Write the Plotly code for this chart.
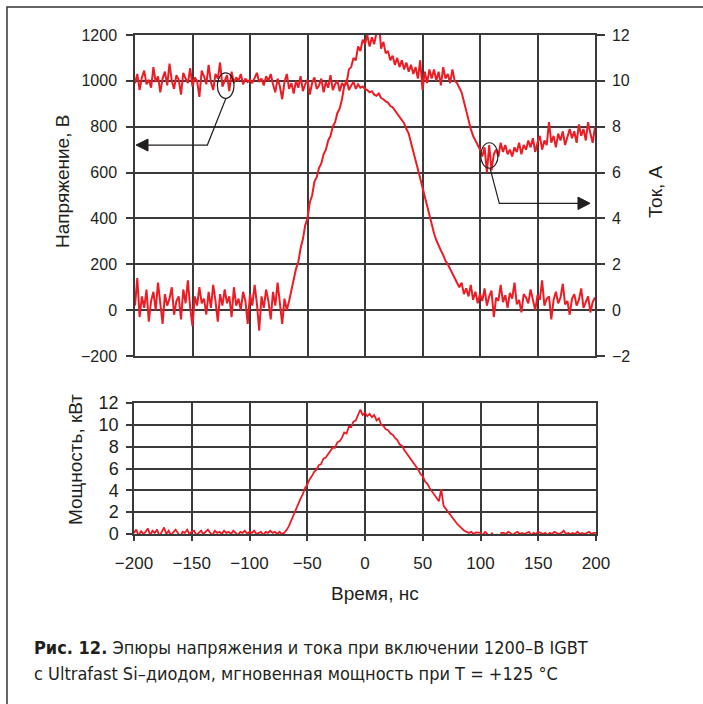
import plotly.graph_objects as go

# Sample times, ns (2 ns sampling grid)
time_ns = list(range(-200, 201, 2))

# Voltage, V (left axis of top panel)
voltage_v = [
    990, 1030, 960, 1015, 1045, 985, 1005, 970, 1060, 995,
    1020, 950, 1010, 1040, 980, 1075, 1000, 965, 1025, 1005,
    940, 1035, 1010, 990, 1055, 975, 1015, 1000, 930, 1045,
    1020, 985, 1070, 995, 960, 1030, 1010, 1080, 975, 1005,
    1025, 955, 1040, 990, 1015, 1000, 1030, 985, 1010, 995,
    1005, 990, 1015, 1035, 995, 1010, 980, 1020, 1000, 1030,
    985, 950, 1010, 975, 920, 995, 1030, 965, 990, 945,
    1000, 970, 1020, 955, 985, 1005, 940, 990, 1015, 965,
    980, 1010, 950, 995, 970, 1025, 960, 985, 1000, 955,
    990, 975, 1005, 960, 980, 995, 965, 985, 970, 975,
    965, 960, 950, 955, 940, 935, 945, 925, 920, 910,
    905, 890, 885, 870, 860, 845, 830, 815, 790, 770,
    730, 695, 655, 615, 575, 535, 495, 455, 415, 370,
    335, 305, 280, 260, 240, 215, 200, 180, 160, 140,
    125, 100, 120, 70, 95, 60, 110, 45, 80, 30,
    70, 40, 95, 20, 60, 85, -30, 55, 40, 110,
    35, 65, 10, 75, 50, 120, 25, 45, -10, 70,
    55, 30, 90, 40, 0, 65, 45, 130, 20, 50,
    60, -40, 45, 80, 30, 55, 115, 25, 40, -20,
    50, 70, 20, 45, 95, 10, 40, 60, -10, 35,
    55,
]

# Current, A (right axis of top panel)
current_a = [
    0.2, 1.4, -0.3, 0.6, 0.1, 0.9, -0.5, 0.4, 0.8, 0.0,
    1.2, 0.3, -0.6, 0.7, 0.2, 0.5, 1.0, -0.2, 0.4, 0.6,
    -0.4, 0.9, 0.3, 1.3, 0.1, -0.7, 0.6, 0.2, 1.0, 0.3,
    0.5, -0.2, 0.8, 0.1, 1.1, 0.4, -0.5, 0.7, 0.2, 0.9,
    0.3, 0.6, -0.3, 1.0, 0.2, 0.5, 0.0, 0.8, 0.4, -0.6,
    0.7, 0.2, 1.1, 0.3, -0.9, 0.6, 0.1, 0.9, 0.4, -0.4,
    0.8, 0.2, 1.2, 0.3, -0.6, 0.5, 0.0, 0.4, 0.9, 1.3,
    1.8, 2.1, 2.7, 3.1, 3.7, 4.0, 4.7, 5.0, 5.6, 5.8,
    6.2, 6.4, 6.8, 7.0, 7.4, 7.6, 8.0, 8.2, 8.6, 8.8,
    9.2, 9.8, 9.9, 10.5, 10.6, 11.0, 10.9, 11.5, 11.3, 11.8,
    11.6, 12.0, 11.5, 11.9, 11.6, 12.1, 12.6, 11.4, 11.7, 11.2,
    11.3, 10.9, 11.1, 10.7, 11.0, 10.6, 10.9, 10.5, 10.8, 10.4,
    10.7, 10.3, 10.6, 10.1, 10.9, 9.6, 10.4, 9.9, 10.5, 10.1,
    10.5, 10.0, 10.4, 9.8, 10.6, 10.1, 10.3, 9.9, 10.5, 10.0,
    9.9, 9.7, 9.5, 9.1, 8.7, 8.2, 7.9, 7.6, 7.4, 7.2,
    7.0, 6.7, 7.1, 6.0, 7.2, 6.1, 6.8, 7.0, 6.7, 7.3,
    6.9, 7.2, 6.8, 7.0, 6.7, 7.1, 6.9, 7.3, 6.8, 7.2,
    7.0, 7.4, 7.1, 7.5, 6.9, 7.3, 7.6, 7.0, 7.4, 7.2,
    8.2, 7.3, 7.6, 7.1, 7.7, 7.4, 7.8, 7.2, 7.6, 7.9,
    7.5, 7.8, 7.3, 8.1, 7.6, 7.9, 7.4, 8.2, 7.7, 7.3,
    8.0,
]

# Instantaneous power, kW (bottom panel)
power_kw = [
    0.1, 0.4, -0.2, 0.3, 0.0, 0.2, 0.5, -0.1, 0.3, 0.1,
    0.4, -0.2, 0.2, 0.6, 0.0, 0.3, -0.1, 0.2, 0.4, 0.1,
    -0.3, 0.2, 0.1, 0.4, 0.0, 0.2, 0.3, -0.1, 0.1, 0.3,
    0.0, 0.2, 0.4, 0.1, -0.1, 0.3, 0.1, 0.2, 0.0, 0.3,
    0.1, 0.2, 0.0, 0.3, 0.1, -0.1, 0.2, 0.1, 0.3, 0.0,
    0.2, 0.1, 0.3, 0.0, 0.1, 0.2, -0.1, 0.2, 0.1, 0.3,
    0.1, 0.2, 0.0, 0.2, 0.0, 0.1, 0.35, 0.7, 1.2, 1.7,
    2.3, 2.7, 3.2, 3.6, 4.2, 4.5, 5.0, 5.3, 5.7, 5.9,
    6.3, 6.4, 6.9, 7.0, 7.3, 7.5, 7.9, 7.9, 8.4, 8.5,
    8.8, 9.3, 9.2, 9.8, 9.8, 10.3, 10.4, 10.9, 11.4, 10.9,
    11.1, 10.8, 11.0, 10.7, 10.9, 10.4, 10.6, 10.0, 9.9, 9.6,
    9.5, 9.2, 9.1, 8.8, 8.6, 8.2, 8.1, 7.7, 7.4, 7.2,
    6.9, 6.6, 6.2, 5.9, 5.5, 5.3, 4.8, 4.6, 4.2, 3.9,
    3.6, 3.3, 3.0, 4.1, 2.6, 2.3, 2.0, 1.7, 1.4, 1.1,
    0.9, 0.7, 0.5, 0.3, 0.2, 0.1, 0.2, 0.0, 0.15, 0.1,
    0.1, -0.1, 0.2, 0.0, -0.3, 0.1, -0.5, 0.0, -1.2, 0.1,
    0.1, 0.0, 0.2, 0.1, -0.1, 0.1, 0.2, 0.0, 0.1, 0.0,
    0.1, 0.2, -0.1, 0.1, 0.0, 0.2, 0.1, 0.0, 0.1, -0.1,
    0.1, 0.0, 0.2, 0.1, 0.0, 0.1, 0.3, 0.0, 0.1, 0.0,
    0.1, 0.0, 0.2, 0.0, 0.1, 0.0, 0.1, 0.2, 0.0, 0.1,
    0.1,
]

x_ticks = [-200, -150, -100, -50, 0, 50, 100, 150, 200]
v_ticks = [-200, 0, 200, 400, 600, 800, 1000, 1200]
i_ticks = [-2, 0, 2, 4, 6, 8, 10, 12]
p_ticks = [0, 2, 4, 6, 8, 10, 12]

RED = "#ED1C24"
GRID = "#3a3a3a"
INK = "#231f20"
TICKFONT = dict(family="Liberation Sans, Arial, sans-serif", size=16, color=INK)
W, H = 703, 704

fig = go.Figure()
fig.add_trace(go.Scatter(x=time_ns, y=voltage_v, mode="lines",
                         line=dict(color=RED, width=2), xaxis="x", yaxis="y"))
fig.add_trace(go.Scatter(x=time_ns, y=current_a, mode="lines",
                         line=dict(color=RED, width=2), xaxis="x", yaxis="y2"))
fig.add_trace(go.Scatter(x=time_ns, y=power_kw, mode="lines",
                         line=dict(color=RED, width=1.8), xaxis="x2", yaxis="y3"))

common_axis = dict(showline=True, linecolor=GRID, linewidth=1.5, mirror=True,
                   gridcolor=GRID, gridwidth=1.5, zeroline=False, tickcolor=GRID,
                   tickwidth=1.5, tickfont=TICKFONT, automargin=False)

fig.update_layout(
    width=W, height=H,
    margin=dict(l=0, r=0, t=0, b=0, pad=0, autoexpand=False),
    paper_bgcolor="white", plot_bgcolor="white",
    showlegend=False,
    xaxis=dict(domain=[135 / W, 595 / W], range=[-200, 200], tickvals=x_ticks,
               showticklabels=False, ticks="", anchor="y", **common_axis),
    yaxis=dict(domain=[1 - 356 / H, 1 - 35 / H], range=[-200, 1200], tickvals=v_ticks,
               ticks="outside", ticklen=7, ticklabelstandoff=6, anchor="x", **common_axis),
    yaxis2=dict(range=[-2, 12], tickvals=i_ticks, overlaying="y", side="right",
                anchor="x", showgrid=False, showline=True, linecolor=GRID, linewidth=1.5,
                zeroline=False, ticks="outside", ticklen=8, tickcolor=GRID, tickwidth=1.5,
                ticklabelstandoff=4, tickfont=TICKFONT, automargin=False),
    xaxis2=dict(domain=[134 / W, 596 / W], range=[-200, 200], tickvals=x_ticks,
                ticks="outside", ticklen=5, anchor="y3", ticklabelstandoff=8,
                **{**common_axis, "tickfont": dict(TICKFONT, size=17)}),
    yaxis3=dict(domain=[1 - 534 / H, 1 - 403 / H], range=[0, 12], tickvals=p_ticks,
                ticks="outside", ticklen=6, ticklabelstandoff=4, anchor="x2",
                **{**common_axis, "tickfont": dict(TICKFONT, size=18)}),
)

TITLEFONT = dict(family="Liberation Sans, Arial, sans-serif", size=19, color=INK)
ann = [
    dict(text="Напряжение, В", x=62 / W, y=1 - 182 / H, textangle=-90),
    dict(text="Ток, А", x=655 / W, y=1 - 192 / H, textangle=-90),
    dict(text="Мощность, кВт", x=75 / W, y=1 - 460 / H, textangle=-90),
    dict(text="Время, нс", x=375 / W, y=1 - 593 / H, textangle=0),
]
for a in ann:
    fig.add_annotation(xref="paper", yref="paper", showarrow=False,
                       xanchor="center", yanchor="middle", font=TITLEFONT, **a)

CAPFONT = dict(family="Liberation Sans Narrow, DejaVu Sans Condensed, Roboto, sans-serif",
               size=18, color=INK)
fig.add_annotation(xref="paper", yref="paper", showarrow=False, xanchor="left",
                   yanchor="middle", x=32 / W, y=1 - 647 / H, font=CAPFONT,
                   text="<b>Рис. 12.</b> Эпюры напряжения и тока при включении 1200–В IGBT")
fig.add_annotation(xref="paper", yref="paper", showarrow=False, xanchor="left",
                   yanchor="middle", x=32 / W, y=1 - 673 / H, font=CAPFONT,
                   text="с Ultrafast Si–диодом, мгновенная мощность при Т = +125 °С")

# Outer frame (left and top edges; right and bottom lie outside the picture)
fx, fy = 7 / W, 1 - 7 / H
fig.add_shape(type="path", xref="paper", yref="paper",
              path=f"M {fx} 0 L {fx} {fy} L 1 {fy}", line=dict(color="#333", width=1.5))

# Callout ellipses and arrows (data coordinates of the top panel)
line_k = dict(color="#231f20", width=1.2)
fig.add_shape(type="circle", xref="x", yref="y", x0=-128.4, x1=-113.9, y0=924, y1=1035,
              line=line_k)
fig.add_shape(type="path", xref="x", yref="y",
              path="M -120.9 924 L -137.1 720 L -188.7 720", line=line_k)
fig.add_shape(type="path", xref="x", yref="y",
              path="M -199.1 720 L -188.7 746 L -188.7 694 Z",
              line=dict(color="#231f20", width=1), fillcolor="#231f20")
fig.add_shape(type="circle", xref="x", yref="y", x0=100.6, x1=115.7, y0=619, y1=730,
              line=line_k)
fig.add_shape(type="path", xref="x", yref="y",
              path="M 108.7 619 L 116.8 466 L 185.2 466", line=line_k)
fig.add_shape(type="path", xref="x", yref="y",
              path="M 195.7 466 L 185.2 493 L 185.2 439 Z",
              line=dict(color="#231f20", width=1), fillcolor="#231f20")

fig.write_html("out.html")
